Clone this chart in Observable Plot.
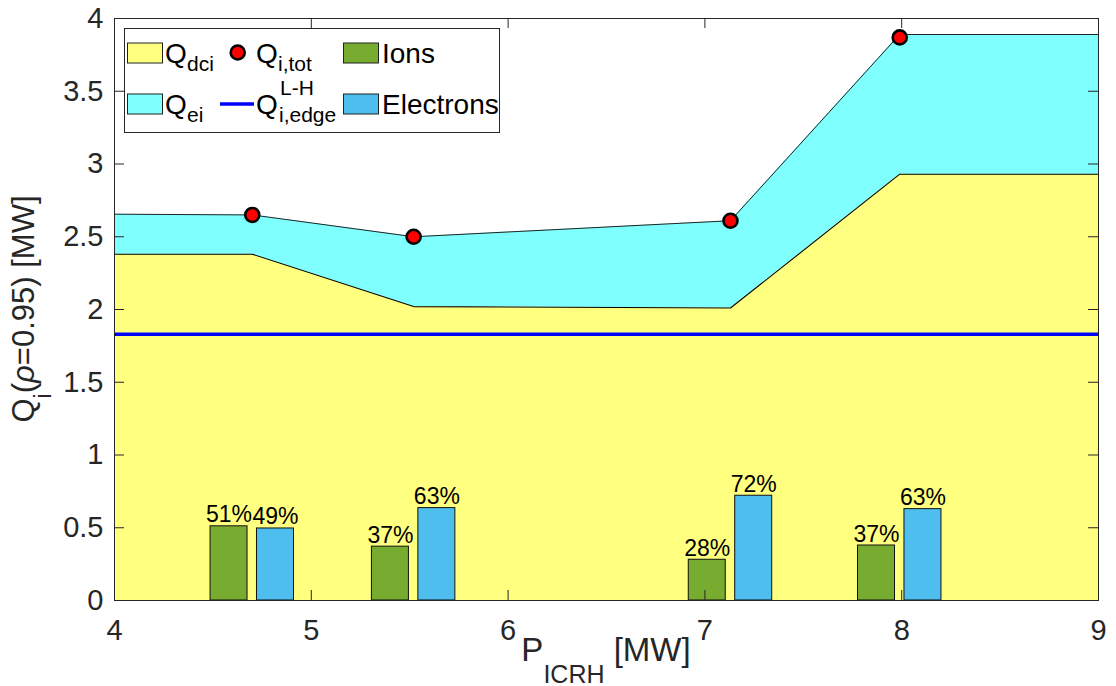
<!DOCTYPE html>
<html><head><meta charset="utf-8">
<script src="https://cdn.jsdelivr.net/npm/d3@7"></script>
<script src="https://cdn.jsdelivr.net/npm/@observablehq/plot@0.6"></script>
<style>
body{margin:0;background:#fff;}
#wrap{width:1116px;height:686px;}
</style></head><body><div id="wrap"></div>
<script>
// ---- data ----
const pIcrh = [4.70, 5.52, 7.13, 7.99];          // P_ICRH [MW] of each shot
const qTot = [2.65, 2.50, 2.61, 3.87];           // Q_i,tot dots
const areaX = [4, 4.70, 5.52, 7.13, 7.99, 9];    // area knots
const qDci = [2.38, 2.38, 2.02, 2.01, 2.93, 2.93];       // Q_dci (yellow top)
const qDciEi = [2.655, 2.65, 2.50, 2.61, 3.89, 3.89];    // Q_dci + Q_ei (cyan top)
const qLH = 1.83;                                 // Q^{L-H}_{i,edge}
const ionShare = [0.51, 0.37, 0.28, 0.378];
const elecShare = [0.495, 0.635, 0.72, 0.628];
const ionLabels = ["51%", "37%", "28%", "37%"];
const elecLabels = ["49%", "63%", "72%", "63%"];
const xTicks = [4, 5, 6, 7, 8, 9];
const xTickLabels = ["4", "5", "6", "7", "8", "9"];
const yTicks = [0, 0.5, 1, 1.5, 2, 2.5, 3, 3.5, 4];
const yTickLabels = ["0", "0.5", "1", "1.5", "2", "2.5", "3", "3.5", "4"];

// ---- styles ----
const C = {yellow: "#FFFF80", cyan: "#80FFFF", ions: "#77AC30", elec: "#4DBEEE", blue: "#0000FF", axis: "#262626"};
const W = 1116, H = 686, mL = 114, mR = 18, mT = 18, mB = 86;
const plotW = W - mL - mR, plotH = H - mT - mB, tickLen = 10;
const barOffset = 0.118, barHalf = 0.094;
const FONT = "'Liberation Sans', Arial, Helvetica, sans-serif";

const areaRows = areaX.map((x, i) => ({x, dci: qDci[i], top: qDciEi[i]}));
const dotRows = pIcrh.map((p, i) => ({p, q: qTot[i]}));
const bars = pIcrh.flatMap((p, i) => [
  {c: p - barOffset, v: ionShare[i], label: ionLabels[i], fill: C.ions},
  {c: p + barOffset, v: elecShare[i], label: elecLabels[i], fill: C.elec}
]);

const svg = Plot.plot({
  width: W, height: H,
  marginLeft: mL, marginRight: mR, marginTop: mT, marginBottom: mB,
  style: {fontFamily: FONT, background: "#fff", overflow: "visible"},
  x: {domain: [4, 9]},
  y: {domain: [0, 4]},
  marks: [
    Plot.areaY(areaRows, {x: "x", y1: 0, y2: "dci", fill: C.yellow}),
    Plot.areaY(areaRows, {x: "x", y1: "dci", y2: "top", fill: C.cyan}),
    Plot.line(areaRows, {x: "x", y: "dci", stroke: "#000", strokeWidth: 1.1}),
    Plot.line(areaRows, {x: "x", y: "top", stroke: "#222", strokeWidth: 1}),
    Plot.ruleY([qLH], {stroke: C.blue, strokeWidth: 3.5}),
    Plot.rect(bars, {x1: d => d.c - barHalf, x2: d => d.c + barHalf, y1: 0, y2: "v", fill: "fill", stroke: "#111", strokeWidth: 1}),
    Plot.text(bars, {x: "c", y: "v", text: "label", dy: -4, lineAnchor: "bottom", fontSize: 23, fill: "#000"}),
    Plot.dot(dotRows, {x: "p", y: "q", r: 7, fill: "#FF0000", stroke: "#000", strokeWidth: 2.6}),
    // inward MATLAB-style ticks
    Plot.tickX(xTicks, {x: d => d, stroke: C.axis, insetTop: plotH - tickLen}),
    Plot.tickX(xTicks, {x: d => d, stroke: C.axis, insetBottom: plotH - tickLen}),
    Plot.tickY(yTicks, {y: d => d, stroke: C.axis, insetRight: plotW - tickLen}),
    Plot.tickY(yTicks, {y: d => d, stroke: C.axis, insetLeft: plotW - tickLen}),
    Plot.frame({stroke: C.axis, strokeWidth: 1}),
    Plot.axisX(xTicks, {tickSize: 0, tickPadding: 19, fontSize: 29, color: C.axis, label: null,
      tickFormat: (d, i) => xTickLabels[i]}),
    Plot.axisY(yTicks, {tickSize: 0, tickPadding: 11, fontSize: 29, color: C.axis, label: null,
      tickFormat: (d, i) => yTickLabels[i]})
  ]
});
document.getElementById("wrap").appendChild(svg);

// ---- axis titles with sub/superscripts ----
const s = d3.select(svg);
const yl = s.append("text")
  .attr("transform", `translate(34,${mT + plotH / 2}) rotate(-90)`)
  .attr("text-anchor", "middle").attr("fill", C.axis)
  .style("font-family", FONT).style("font-size", "31px");
yl.append("tspan").text("Q");
yl.append("tspan").attr("dy", 17).style("font-size", "23px").text("i");
yl.append("tspan").attr("dy", -17).text("(");
yl.append("tspan").style("font-style", "italic").text("ρ");
yl.append("tspan").text("=0.95) [MW]");

const xl = s.append("text")
  .attr("x", mL + plotW / 2).attr("y", 661)
  .attr("text-anchor", "middle").attr("fill", C.axis)
  .style("font-family", FONT).style("font-size", "33px");
xl.append("tspan").text("P");
xl.append("tspan").attr("dy", 22).style("font-size", "25px").text("ICRH");
xl.append("tspan").attr("dy", -22).text(" [MW]");

// ---- legend (inside axes, upper left) ----
const lg = s.append("g").style("font-family", FONT).attr("fill", "#000").attr("text-anchor", "start");
lg.append("rect").attr("x", 124.5).attr("y", 28.5).attr("width", 375).attr("height", 104)
  .attr("fill", "#fff").attr("stroke", C.axis).attr("stroke-width", 1);
const sw = (x, y, fill) => lg.append("rect").attr("x", x).attr("y", y).attr("width", 35).attr("height", 20)
  .attr("fill", fill).attr("stroke", "#222").attr("stroke-width", 1);
sw(127.5, 43, C.yellow);
sw(127.5, 94, C.cyan);
sw(343.5, 43, C.ions);
sw(343.5, 94, C.elec);
lg.append("circle").attr("cx", 237.7).attr("cy", 52.5).attr("r", 7).attr("fill", "#FF0000")
  .attr("stroke", "#000").attr("stroke-width", 2.6);
lg.append("line").attr("x1", 220).attr("x2", 254).attr("y1", 104).attr("y2", 104)
  .attr("stroke", C.blue).attr("stroke-width", 3.5);
const txt = (x, y, size, str) => lg.append("text").attr("x", x).attr("y", y)
  .attr("text-anchor", "start").style("font-size", size + "px").text(str);
txt(165, 63, 28, "Q"); txt(187, 71, 21, "dci");
txt(256, 63, 28, "Q"); txt(278, 71, 21, "i,tot");
txt(382, 63, 28, "Ions");
txt(165, 114, 28, "Q"); txt(187, 122, 21, "ei");
txt(256, 114, 28, "Q"); txt(280, 95, 21, "L-H"); txt(279, 122, 21, "i,edge");
txt(382, 114, 28, "Electrons");
</script>
</body></html>
